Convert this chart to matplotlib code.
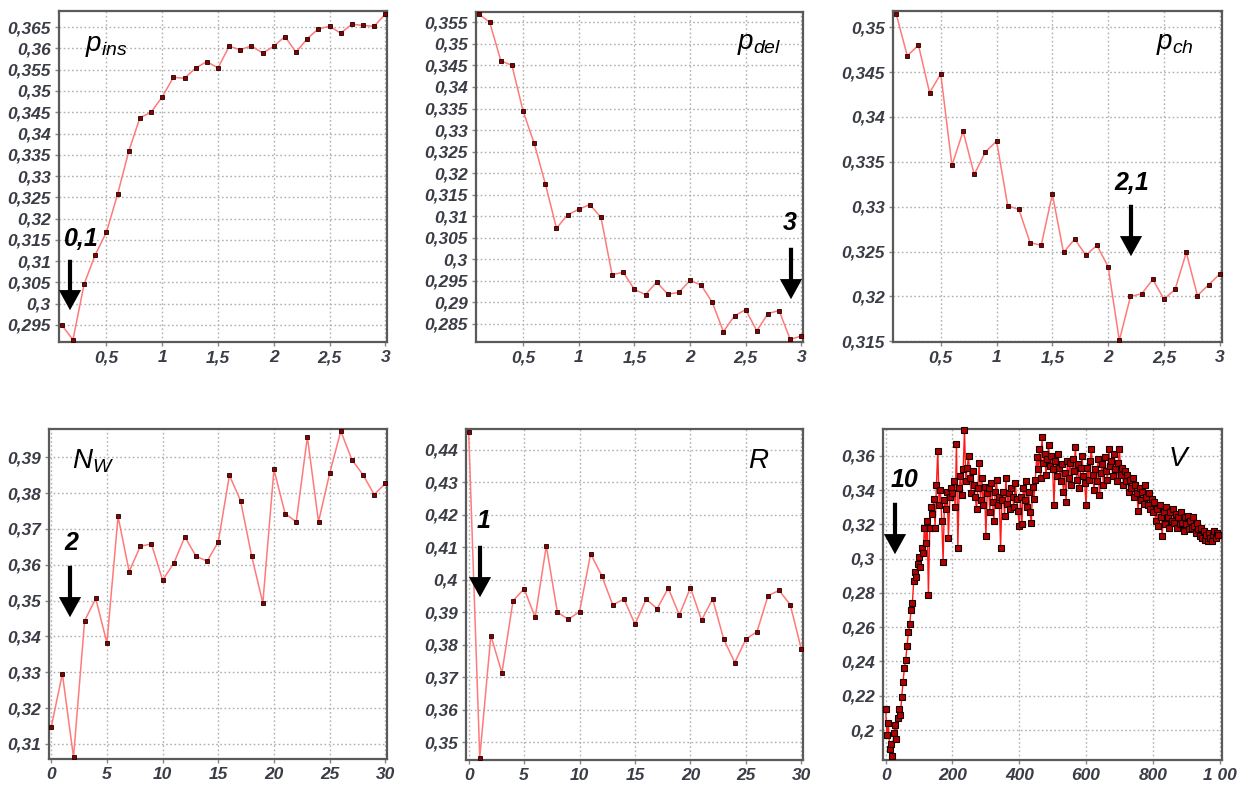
import matplotlib
matplotlib.use("Agg")
import matplotlib.pyplot as plt
from matplotlib.patches import FancyArrowPatch

plt.rcParams['font.family'] = ['Liberation Sans', 'DejaVu Sans']
plt.rcParams['mathtext.fontset'] = 'custom'
plt.rcParams['mathtext.it'] = 'Liberation Sans:italic'
plt.rcParams['mathtext.rm'] = 'Liberation Sans'

# ---------------- data ----------------
p_x = [0.1, 0.2, 0.3, 0.4, 0.5, 0.6, 0.7, 0.8, 0.9, 1.0,
       1.1, 1.2, 1.3, 1.4, 1.5, 1.6, 1.7, 1.8, 1.9, 2.0,
       2.1, 2.2, 2.3, 2.4, 2.5, 2.6, 2.7, 2.8, 2.9, 3.0]
p_ins = [0.2950, 0.2915, 0.3046, 0.3115, 0.3168, 0.3257, 0.3358, 0.3437, 0.3450, 0.3486,
         0.3532, 0.3530, 0.3554, 0.3569, 0.3554, 0.3605, 0.3597, 0.3606, 0.3589, 0.3605,
         0.3628, 0.3591, 0.3623, 0.3646, 0.3652, 0.3636, 0.3657, 0.3654, 0.3652, 0.3681]
p_del = [0.3570, 0.3550, 0.3461, 0.3450, 0.3344, 0.3269, 0.3175, 0.3072, 0.3103, 0.3116,
         0.3127, 0.3097, 0.2964, 0.2970, 0.2930, 0.2918, 0.2947, 0.2919, 0.2923, 0.2951,
         0.2940, 0.2900, 0.2832, 0.2869, 0.2883, 0.2834, 0.2874, 0.2881, 0.2814, 0.2822]
p_ch = [0.3515, 0.3468, 0.3480, 0.3427, 0.3448, 0.3346, 0.3384, 0.3336, 0.3361, 0.3373,
        0.3301, 0.3297, 0.3260, 0.3257, 0.3314, 0.3249, 0.3264, 0.3246, 0.3257, 0.3233,
        0.3151, 0.3200, 0.3203, 0.3219, 0.3197, 0.3208, 0.3249, 0.3201, 0.3213, 0.3225]

n_x = list(range(0, 31))
N_W = [0.3147, 0.3296, 0.3063, 0.3444, 0.3506, 0.3382, 0.3735, 0.3581, 0.3652, 0.3658,
       0.3557, 0.3604, 0.3678, 0.3624, 0.3610, 0.3664, 0.3850, 0.3779, 0.3624, 0.3493,
       0.3866, 0.3743, 0.3720, 0.3957, 0.3720, 0.3855, 0.3973, 0.3893, 0.3851, 0.3796,
       0.3827]
R = [0.4456, 0.3452, 0.3828, 0.3713, 0.3935, 0.3972, 0.3884, 0.4104, 0.3900, 0.3878,
     0.3902, 0.4080, 0.4012, 0.3922, 0.3941, 0.3863, 0.3940, 0.3911, 0.3974, 0.3891,
     0.3976, 0.3875, 0.3941, 0.3817, 0.3745, 0.3817, 0.3840, 0.3951, 0.3967, 0.3923,
     0.3786]

V_y = [
    # 0-96
    0.212, 0.197, 0.204, 0.189, 0.192, 0.185, 0.198, 0.203, 0.195, 0.207,
    0.212, 0.209, 0.219, 0.228, 0.236, 0.241, 0.249, 0.257, 0.262, 0.270,
    0.274, 0.287, 0.292, 0.289, 0.297,
    # 100-196
    0.301, 0.295, 0.306, 0.303, 0.318, 0.309, 0.322, 0.279, 0.318, 0.330,
    0.326, 0.335, 0.318, 0.343, 0.363, 0.331, 0.340, 0.322, 0.298, 0.334,
    0.329, 0.339, 0.312, 0.336, 0.341,
    # 200-296
    0.338, 0.345, 0.330, 0.367, 0.306, 0.341, 0.348, 0.337, 0.352, 0.375,
    0.345, 0.353, 0.360, 0.347, 0.338, 0.351, 0.343, 0.336, 0.329, 0.341,
    0.356, 0.334, 0.347, 0.331, 0.342,
    # 300-396
    0.313, 0.338, 0.341, 0.327, 0.344, 0.333, 0.322, 0.339, 0.346, 0.331,
    0.336, 0.306, 0.334, 0.339, 0.325, 0.347, 0.332, 0.338, 0.329, 0.341,
    0.336, 0.330, 0.344, 0.335, 0.328,
    # 400-496
    0.319, 0.336, 0.320, 0.341, 0.334, 0.345, 0.330, 0.339, 0.327, 0.321,
    0.342, 0.335, 0.346, 0.359, 0.352, 0.364, 0.347, 0.371, 0.356, 0.361,
    0.349, 0.358, 0.366, 0.354, 0.360,
    # 500-596
    0.352, 0.331, 0.357, 0.348, 0.361, 0.353, 0.345, 0.355, 0.339, 0.350,
    0.333, 0.357, 0.347, 0.356, 0.343, 0.358, 0.351, 0.365, 0.346, 0.355,
    0.341, 0.353, 0.360, 0.348, 0.344,
    # 600-696
    0.331, 0.353, 0.346, 0.357, 0.364, 0.349, 0.340, 0.352, 0.345, 0.358,
    0.337, 0.350, 0.355, 0.343, 0.359, 0.351, 0.346, 0.364, 0.354, 0.357,
    0.348, 0.361, 0.352, 0.345, 0.356,
    # 700-796
    0.364, 0.349, 0.353, 0.343, 0.351, 0.345, 0.349, 0.339, 0.346, 0.341,
    0.347, 0.336, 0.343, 0.338, 0.328, 0.341, 0.334, 0.339, 0.332, 0.343,
    0.336, 0.331, 0.338, 0.329, 0.335,
    # 800-896
    0.327, 0.333, 0.322, 0.329, 0.319, 0.331, 0.324, 0.313, 0.327, 0.320,
    0.330, 0.324, 0.318, 0.327, 0.322, 0.329, 0.321, 0.326, 0.318, 0.324,
    0.320, 0.327, 0.321, 0.316, 0.324,
    # 900-996
    0.320, 0.325, 0.317, 0.322, 0.318, 0.324, 0.319, 0.315, 0.321, 0.317,
    0.313, 0.318, 0.312, 0.316, 0.311, 0.314, 0.310, 0.315, 0.312, 0.310,
    0.314, 0.316, 0.312, 0.315, 0.314,
]
V_step = 4
V_x = [i * V_step for i in range(len(V_y))]

# ticks
p_xticks = [0.5, 1.0, 1.5, 2.0, 2.5, 3.0]
p_xlabels = ['0,5', '1', '1,5', '2', '2,5', '3']
ins_yticks = [0.295, 0.3, 0.305, 0.31, 0.315, 0.32, 0.325, 0.33, 0.335, 0.34,
              0.345, 0.35, 0.355, 0.36, 0.365]
ins_ylabels = ['0,295', '0,3', '0,305', '0,31', '0,315', '0,32', '0,325', '0,33',
               '0,335', '0,34', '0,345', '0,35', '0,355', '0,36', '0,365']
del_yticks = [0.285, 0.29, 0.295, 0.3, 0.305, 0.31, 0.315, 0.32, 0.325, 0.33,
              0.335, 0.34, 0.345, 0.35, 0.355]
del_ylabels = ['0,285', '0,29', '0,295', '0,3', '0,305', '0,31', '0,315', '0,32',
               '0,325', '0,33', '0,335', '0,34', '0,345', '0,35', '0,355']
ch_yticks = [0.315, 0.32, 0.325, 0.33, 0.335, 0.34, 0.345, 0.35]
ch_ylabels = ['0,315', '0,32', '0,325', '0,33', '0,335', '0,34', '0,345', '0,35']
n_xticks = [0, 5, 10, 15, 20, 25, 30]
n_xlabels = ['0', '5', '10', '15', '20', '25', '30']
nw_yticks = [0.31, 0.32, 0.33, 0.34, 0.35, 0.36, 0.37, 0.38, 0.39]
nw_ylabels = ['0,31', '0,32', '0,33', '0,34', '0,35', '0,36', '0,37', '0,38', '0,39']
r_yticks = [0.35, 0.36, 0.37, 0.38, 0.39, 0.40, 0.41, 0.42, 0.43, 0.44]
r_ylabels = ['0,35', '0,36', '0,37', '0,38', '0,39', '0,4', '0,41', '0,42', '0,43', '0,44']
v_xticks = [0, 200, 400, 600, 800, 1000]
v_xlabels = ['0', '200', '400', '600', '800', '1 00']
v_yticks = [0.2, 0.22, 0.24, 0.26, 0.28, 0.3, 0.32, 0.34, 0.36]
v_ylabels = ['0,2', '0,22', '0,24', '0,26', '0,28', '0,3', '0,32', '0,34', '0,36']

# ---------------- figure ----------------
W, H = 1248, 787
fig = plt.figure(figsize=(W / 100, H / 100), dpi=100)
fig.patch.set_facecolor('white')


def make_axes(l, t, r, b):
    return fig.add_axes([l / W, 1 - b / H, (r - l) / W, (b - t) / H])


TICK_COLOR = '#3a3d45'


def style(ax, xt, xl, yt, yl, xlim, ylim):
    ax.set_xlim(*xlim)
    ax.set_ylim(*ylim)
    ax.set_xticks(xt)
    ax.set_xticklabels(xl)
    ax.set_yticks(yt)
    ax.set_yticklabels(yl)
    for lab in ax.get_xticklabels() + ax.get_yticklabels():
        lab.set_fontsize(12.5)
        lab.set_fontstyle('italic')
        lab.set_fontweight('bold')
        lab.set_color(TICK_COLOR)
    ax.tick_params(axis='both', length=3, width=1, color='#888888', pad=3)
    ax.grid(True, color='#b0b0b0', linestyle=(0, (1.2, 1.8)), linewidth=1.0)
    ax.set_axisbelow(True)
    for s in ax.spines.values():
        s.set_color('#5a5a5a')
        s.set_linewidth(1.6)


LINE = '#ff7a7a'
MFACE = '#8a0000'
MEDGE = '#1a0000'


def plot_series(ax, x, y):
    ax.plot(x, y, '-', color=LINE, lw=1.1, marker='s', ms=3.4,
            mfc=MFACE, mec=MEDGE, mew=0.6, clip_on=False, zorder=3)


ax1 = make_axes(59, 11, 387, 342)
plot_series(ax1, p_x, p_ins)
style(ax1, p_xticks, p_xlabels, ins_yticks, ins_ylabels, (0.075, 3.015), (0.2910, 0.3688))

ax2 = make_axes(476, 12, 803, 342)
plot_series(ax2, p_x, p_del)
style(ax2, p_xticks, p_xlabels, del_yticks, del_ylabels, (0.077, 3.015), (0.2808, 0.3574))

ax3 = make_axes(893, 11, 1222, 342)
plot_series(ax3, p_x, p_ch)
style(ax3, p_xticks, p_xlabels, ch_yticks, ch_ylabels, (0.072, 3.02), (0.31493, 0.3518))

ax4 = make_axes(49, 429, 387, 759)
plot_series(ax4, n_x, N_W)
style(ax4, n_xticks, n_xlabels, nw_yticks, nw_ylabels, (-0.2, 30.15), (0.3058, 0.3979))

ax5 = make_axes(466, 429, 803, 760)
plot_series(ax5, n_x, R)
style(ax5, n_xticks, n_xlabels, r_yticks, r_ylabels, (-0.24, 30.15), (0.3445, 0.4464))

ax6 = make_axes(883, 429, 1222, 760)
ax6.plot(V_x, V_y, '-', color='#ff1a1a', lw=1.0, marker='s', ms=4.0,
         mfc='#b00000', mec='#120000', mew=0.8, clip_on=False, zorder=3)
style(ax6, v_xticks, v_xlabels, v_yticks, v_ylabels, (-8, 1007), (0.1825, 0.3756))

# panel labels (figure pixel positions, top-left origin)
labels = [('$p_{ins}$', 106, 46), ('$p_{del}$', 759, 44), ('$p_{ch}$', 1175, 44),
          ('$N_{W}$', 93, 461), ('$R$', 759, 461), ('$V$', 1179, 459)]
for txt, x, y in labels:
    fig.text(x / W, 1 - y / H, txt, fontsize=20, ha='center', va='center', color='black')

# arrows with labels
arrows = [(70, 257, 313, '0,1', 81, 239),
          (791, 245, 302, '3', 790, 223),
          (1131, 202, 259, '2,1', 1132, 183),
          (70, 563, 620, '2', 71, 543),
          (480, 543, 600, '1', 484, 521),
          (895, 500, 557, '10', 904, 480)]
for x, y0, y1, txt, tx, ty in arrows:
    arr = FancyArrowPatch((x / W, 1 - y0 / H), (x / W, 1 - y1 / H),
                          transform=fig.transFigure,
                          arrowstyle='simple,head_width=1.6,head_length=1.45,tail_width=0.3',
                          mutation_scale=10, color='black', lw=0, zorder=10)
    fig.patches.append(arr)
    fig.text(tx / W, 1 - ty / H, txt, fontsize=18, fontweight='bold', fontstyle='italic',
             ha='center', va='center', color='black')

fig.savefig('out.png', dpi=100, facecolor='white')
